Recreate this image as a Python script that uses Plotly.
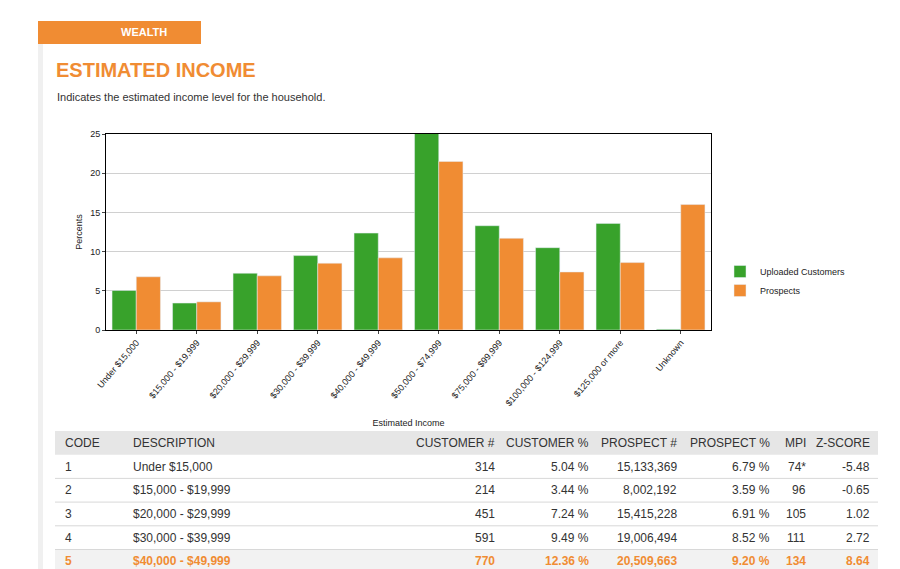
import plotly.graph_objects as go

categories = ["Under $15,000", "$15,000 - $19,999", "$20,000 - $29,999", "$30,000 - $39,999",
              "$40,000 - $49,999", "$50,000 - $74,999", "$75,000 - $99,999", "$100,000 - $124,999",
              "$125,000 or more", "Unknown"]
customers = [5.04, 3.44, 7.24, 9.49, 12.36, 25.6, 13.3, 10.5, 13.6, 0.1]
prospects = [6.79, 3.59, 6.91, 8.52, 9.20, 21.5, 11.7, 7.4, 8.6, 16.0]

tbl_header = ["CODE", "DESCRIPTION", "CUSTOMER #", "CUSTOMER %", "PROSPECT #", "PROSPECT %", "MPI", "Z-SCORE"]
tbl_code = ["1", "2", "3", "4", "5"]
tbl_desc = ["Under $15,000", "$15,000 - $19,999", "$20,000 - $29,999", "$30,000 - $39,999", "$40,000 - $49,999"]
tbl_cust = ["314", "214", "451", "591", "770"]
tbl_custp = ["5.04 %", "3.44 %", "7.24 %", "9.49 %", "12.36 %"]
tbl_pros = ["15,133,369", "8,002,192", "15,415,228", "19,006,494", "20,509,663"]
tbl_prosp = ["6.79 %", "3.59 %", "6.91 %", "8.52 %", "9.20 %"]
tbl_mpi = ["74*", "96", "105", "111", "134"]
tbl_z = ["-5.48", "-0.65", "1.02", "2.72", "8.64"]

W, H = 900, 569
GREEN, ORANGE = "#38a22b", "#f08c33"
FONT = "Liberation Sans, Arial, sans-serif"

fig = go.Figure()
fig.add_bar(x=categories, y=customers, name="Uploaded Customers", marker_color=GREEN)
fig.add_bar(x=categories, y=prospects, name="Prospects", marker_color=ORANGE)

shapes, ann = [], []
def px(x): return x / W
def py(y): return 1 - y / H

shapes.append(dict(type="rect", xref="paper", yref="paper", x0=px(30), x1=px(193), y0=py(36), y1=py(13),
                   fillcolor=ORANGE, line_width=0, layer="below"))
shapes.append(dict(type="rect", xref="paper", yref="paper", x0=px(30), x1=px(35), y0=py(569), y1=py(36),
                   fillcolor="#f0f0f0", line_width=0, layer="below"))
ann.append(dict(text="<b>WEALTH</b>", x=px(111), y=py(24), xref="paper", yref="paper", showarrow=False,
                yanchor="middle", font=dict(color="white", size=11, family=FONT)))
ann.append(dict(text="<b>ESTIMATED INCOME</b>", x=px(46), y=py(62), xref="paper", yref="paper", showarrow=False,
                xanchor="left", yanchor="middle", font=dict(color=ORANGE, size=20, family=FONT)))
ann.append(dict(text="Indicates the estimated income level for the household.", x=px(47), y=py(89),
                xref="paper", yref="paper", showarrow=False, xanchor="left", yanchor="middle",
                font=dict(color="#333", size=11, family=FONT)))

cols = [tbl_code, tbl_desc, tbl_cust, tbl_custp, tbl_pros, tbl_prosp, tbl_mpi, tbl_z]
xpos = [55, 123, 489, 583, 671, 764, 800, 864]
align = ["left", "left", "right", "right", "right", "right", "right", "right"]
top, rh = 423, 23.7
shapes.append(dict(type="rect", xref="paper", yref="paper", x0=px(47), x1=px(870), y0=py(top + rh), y1=py(top),
                   fillcolor="#e6e6e6", line_width=0))
shapes.append(dict(type="rect", xref="paper", yref="paper", x0=px(47), x1=px(870), y0=py(top + 6 * rh), y1=py(top + 5 * rh),
                   fillcolor="#f2f2f2", line_width=0))
for r in range(1, 6):
    yy = top + (r + 1) * rh
    shapes.append(dict(type="line", xref="paper", yref="paper", x0=px(47), x1=px(870), y0=py(yy), y1=py(yy),
                       line=dict(color="#d8d8d8", width=1)))
for c, h in enumerate(tbl_header):
    ann.append(dict(text=h, x=px(xpos[c]), y=py(top + rh / 2), xref="paper", yref="paper", showarrow=False,
                    xanchor=align[c], yanchor="middle", font=dict(color="#333", size=12, family=FONT)))
    for r in range(5):
        hl = r == 4
        t = cols[c][r]
        ann.append(dict(text=f"<b>{t}</b>" if hl else t, x=px(xpos[c]), y=py(top + (r + 1.5) * rh),
                        xref="paper", yref="paper", showarrow=False, xanchor=align[c], yanchor="middle",
                        font=dict(color=ORANGE if hl else "#333", size=12, family=FONT)))

fig.update_layout(
    width=W, height=H, margin=dict(l=0, r=0, t=0, b=0, pad=0, autoexpand=False),
    paper_bgcolor="white", plot_bgcolor="white",
    barmode="group", bargap=0.2, bargroupgap=0,
    font=dict(family=FONT, size=9, color="#222"),
    xaxis=dict(domain=[px(98), px(703)], tickangle=-50, ticks="outside", ticklen=3, automargin=False,
               showline=True, linecolor="black", mirror=True,
               title=dict(text="Estimated Income", font=dict(size=9), standoff=12)),
    yaxis=dict(domain=[py(322), py(126)], range=[0, 25], dtick=5, ticks="outside", ticklen=3, automargin=False,
               showline=True, linecolor="black", mirror=True, gridcolor="#d0d0d0",
               title=dict(text="Percents", font=dict(size=9), standoff=6)),
    legend=dict(x=px(712), y=py(249), xanchor="left", yanchor="top", font=dict(size=9),
                itemwidth=30, tracegroupgap=0, bgcolor="rgba(0,0,0,0)"),
    shapes=shapes, annotations=ann,
)
fig.write_html("out.html", config={"responsive": False})
